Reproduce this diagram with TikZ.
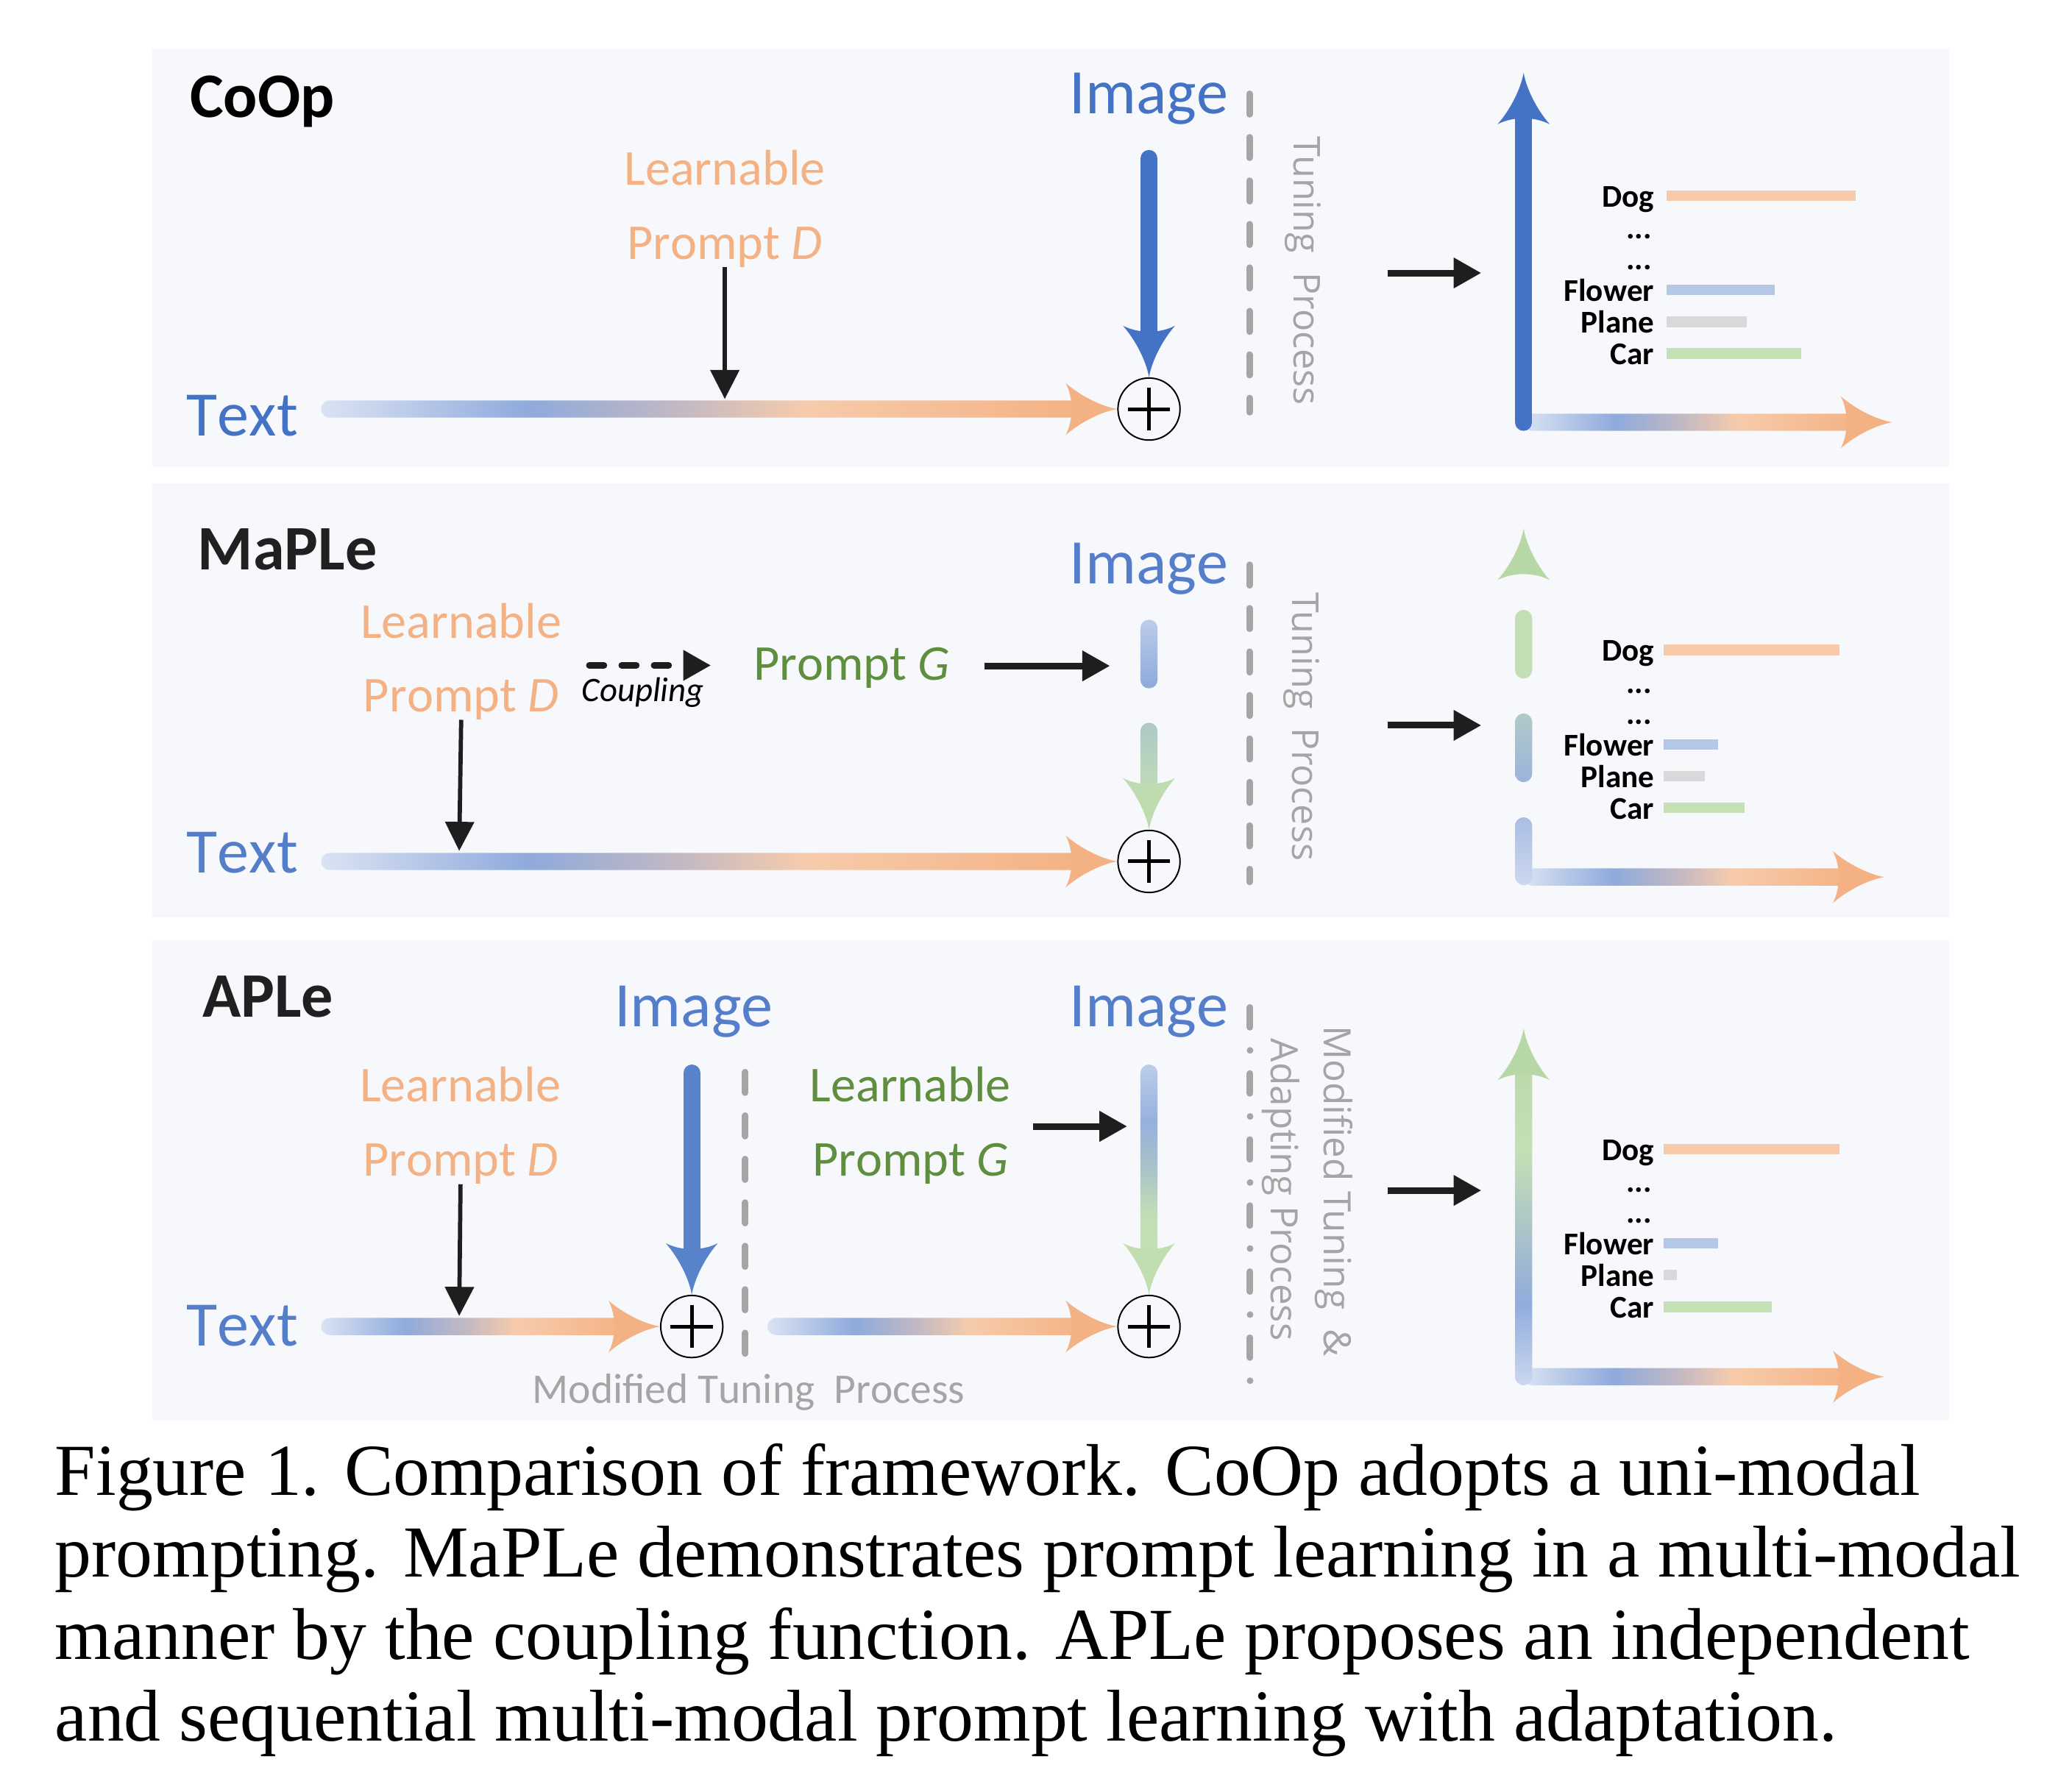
\documentclass[tikz,border=0pt]{standalone}
\usepackage{fontspec}
\setmainfont{Liberation Serif}
\newfontfamily\calfont[Kerning=Off]{Carlito}
\newfontfamily\opfont{Open Sans}
\usetikzlibrary{arrows.meta, calc}

\definecolor{panelbg}{RGB}{247,248,252}
\definecolor{imgblue}{RGB}{68,114,196}
\definecolor{imgblueb}{RGB}{88,131,203}
\definecolor{labblue}{RGB}{84,125,202}
\definecolor{lrnorange}{RGB}{244,177,131}
\definecolor{lrngreen}{RGB}{94,142,62}
\definecolor{procgray}{RGB}{165,165,165}
\definecolor{titlegray}{RGB}{32,32,32}
\definecolor{feedblack}{RGB}{30,30,30}
\definecolor{dogc}{RGB}{246,202,171}
\definecolor{flowc}{RGB}{180,199,231}
\definecolor{planec}{RGB}{217,217,217}
\definecolor{carc}{RGB}{197,224,180}
\definecolor{flowA}{RGB}{218,227,243}
\definecolor{flowB}{RGB}{143,170,220}
\definecolor{flowC}{RGB}{192,184,196}
\definecolor{flowD}{RGB}{246,203,171}
\definecolor{flowE}{RGB}{244,177,131}
\definecolor{headgreen}{RGB}{183,215,166}
\definecolor{headgreenb}{RGB}{190,220,175}
\definecolor{headgreenc}{RGB}{192,222,176}
\definecolor{seggreen}{RGB}{196,223,181}

% shadings: the path box maps to 25bp..75bp
\pgfdeclarehorizontalshading{flowH}{100bp}{color(0bp)=(flowA); color(25bp)=(flowA); color(38.5bp)=(flowB); color(48bp)=(flowC); color(56.5bp)=(flowD); color(75bp)=(flowE); color(100bp)=(flowE)}
\pgfdeclareverticalshading{segB}{100bp}{color(0bp)=(rgb,255:red,142;green,169;blue,219); color(25bp)=(rgb,255:red,142;green,169;blue,219); color(75bp)=(rgb,255:red,188;green,204;blue,235); color(100bp)=(rgb,255:red,188;green,204;blue,235)}
\pgfdeclareverticalshading{segGr}{100bp}{color(0bp)=(rgb,255:red,195;green,223;blue,179); color(25bp)=(rgb,255:red,195;green,223;blue,179); color(75bp)=(rgb,255:red,174;green,200;blue,198); color(100bp)=(rgb,255:red,174;green,200;blue,198)}
\pgfdeclareverticalshading{segT}{100bp}{color(0bp)=(rgb,255:red,156;green,180;blue,220); color(25bp)=(rgb,255:red,156;green,180;blue,220); color(75bp)=(rgb,255:red,176;green,202;blue,201); color(100bp)=(rgb,255:red,176;green,202;blue,201)}
\pgfdeclareverticalshading{segL}{100bp}{color(0bp)=(rgb,255:red,204;green,216;blue,239); color(25bp)=(rgb,255:red,204;green,216;blue,239); color(75bp)=(rgb,255:red,169;green,189;blue,228); color(100bp)=(rgb,255:red,169;green,189;blue,228)}
\pgfdeclareverticalshading{imgV}{100bp}{color(0bp)=(rgb,255:red,195;green,223;blue,179); color(25bp)=(rgb,255:red,195;green,223;blue,179); color(37.5bp)=(rgb,255:red,195;green,222;blue,181); color(49bp)=(rgb,255:red,170;green,195;blue,200); color(61bp)=(rgb,255:red,151;green,176;blue,221); color(75bp)=(rgb,255:red,188;green,205;blue,236); color(100bp)=(rgb,255:red,188;green,205;blue,236)}
\pgfdeclareverticalshading{axisV}{100bp}{color(0bp)=(rgb,255:red,203;green,215;blue,239); color(25bp)=(rgb,255:red,203;green,215;blue,239); color(37.5bp)=(rgb,255:red,145;green,172;blue,220); color(50bp)=(rgb,255:red,174;green,199;blue,199); color(61bp)=(rgb,255:red,197;green,224;blue,180); color(75bp)=(rgb,255:red,185;green,216;blue,168); color(100bp)=(rgb,255:red,185;green,216;blue,168)}

% curved arrow head: tip at #1, turned by #2, colour #3
\newcommand{\curvyhead}[3]{%
  \fill[#3, shift={#1}, rotate=#2] (0,0) .. controls (-12,2) and (-28,10) .. (-39,19.7)
    .. controls (-33,8) and (-33,-8) .. (-39,-19.7)
    .. controls (-28,-10) and (-12,-2) .. (0,0) -- cycle;}
% shaded shaft to the right, with head
\newcommand{\hflow}[2]{%
  \shade[shading=flowH, rounded corners=6.5pt] ($(#1)+(0,-6.5)$) rectangle ($(#2)+(-22,6.5)$);
  \curvyhead{(#2)}{0}{flowE}}
% shaded shaft going down, with head
\newcommand{\vflow}[4]{%
  \shade[shading=#1, rounded corners=6.5pt] ($(#2)+(-6.5,0)$) rectangle ($(#3)+(6.5,-22)$);
  \curvyhead{(#3)}{-90}{#4}}

\tikzset{
  title/.style={font=\calfont\bfseries\fontsize{48}{50}\selectfont, anchor=base west, inner sep=0pt},
  imglab/.style={font=\calfont\fontsize{48}{50}\selectfont, anchor=base, inner sep=0pt},
  lrn/.style={font=\calfont\fontsize{38}{40}\selectfont, anchor=base, inner sep=0pt},
  proc/.style={font=\opfont\fontsize{28}{30}\selectfont, text=procgray, anchor=base, rotate=-90, inner sep=0pt},
  cls/.style={font=\calfont\bfseries\fontsize{24}{26}\selectfont, anchor=base east, inner sep=0pt},
  oplus/.style={circle, draw=black, line width=1.1pt, minimum size=47pt, inner sep=0pt,
    path picture={\draw[line width=2.8pt] ($(path picture bounding box.center)+(-16,0)$) -- ++(32,0)
      ($(path picture bounding box.center)+(0,-16)$) -- ++(0,32);}},
  feed/.style={-{Triangle[length=21pt,width=22pt]}, line width=5pt, feedblack},
  thinfeed/.style={-{Triangle[length=22pt,width=21.5pt]}, line width=3.2pt, feedblack},
  procdash/.style={procgray, line width=5pt, line cap=round, dash pattern=on 15.5pt off 17.4pt},
  caption/.style={font=\fontsize{55.5}{62}\selectfont, align=left, inner sep=0pt}
}

\begin{document}
\begin{tikzpicture}[x=1pt, y=-1pt]
\useasboundingbox (0,0) rectangle (1568,1350);
\fill[white] (0,0) rectangle (1568,1350);

% --- CoOp ---
\fill[panelbg] (115,36.5) rectangle (1475,353.6);
\node[title] (coop) at (143.5,89) {CoOp};
\node[imglab, text=imgblue] (img1) at (869.5,86) {Image};
\node[lrn, text=lrnorange] (lp1) at (548.5,140) {Learnable};
\node[lrn, text=lrnorange] (pd1) at (548.5,196) {Prompt \textit{D}};
\node[imglab, text=imgblue] (txt1) at (183.5,330) {Text};
\node[oplus] (plus1) at (869.5,309.6) {};
\coordinate (ts1) at (243,309.6);
\coordinate (is1) at (869.5,120);
\hflow{ts1}{plus1.west}
\draw[imgblue, line width=13pt, line cap=round] (is1) -- ($(plus1.north)+(0,-22)$);
\curvyhead{(plus1.north)}{-90}{imgblue}
\draw[thinfeed] (pd1.south) -- (548.5,302);
\draw[procdash] (945.5,71) -- (945.5,312);
\node[proc] (tun1) at (979,205) {Tuning\ \ Process};
\draw[feed] (1050,206.6) -- (1121,206.6);
% output axes
\coordinate (ax1) at (1153,319.6);
\coordinate (up1) at (1153,55);
\coordinate (rt1) at (1432,319.6);
\hflow{ax1}{rt1}
\draw[imgblue, line width=13pt, line cap=round] (ax1) -- ($(up1)+(0,22)$);
\curvyhead{(up1)}{90}{imgblue}

% --- MaPLe ---
\fill[panelbg] (115,365.7) rectangle (1475,694.3);
\node[title, text=titlegray] (maple) at (149.5,431) {MaPLe};
\node[imglab, text=labblue] (img2) at (869.5,442) {Image};
\node[lrn, text=lrnorange] (lp2) at (349,483) {Learnable};
\node[lrn, text=lrnorange] (pd2) at (349,538.5) {Prompt \textit{D}};
\node[lrn, text=lrngreen] (pg2) at (644.5,515) {Prompt \textit{G}};
\node[font=\calfont\itshape\fontsize{26}{28}\selectfont, anchor=base, inner sep=0pt] (cpl) at (486.5,531) {Coupling};
\draw[feed, dash pattern=on 11pt off 13.5pt, line cap=round] (446,503.6) -- (538,503.6);
\draw[feed] (745,504) -- (840,504);
\node[imglab, text=labblue] (txt2) at (183.5,660.6) {Text};
\node[oplus] (plus2) at (869.5,652) {};
\coordinate (ts2) at (243,652);
\hflow{ts2}{plus2.west}
\shade[shading=segB, rounded corners=6.5pt] (863,469) rectangle (876,521);
\coordinate (gs2) at (869.5,547);
\vflow{segGr}{gs2}{plus2.north}{headgreenb}
\draw[thinfeed] (pd2.south) -- (347.5,644);
\draw[procdash] (945.5,427.5) -- (945.5,667.5);
\node[proc] (tun2) at (978,550) {Tuning\ \ Process};
\draw[feed] (1050,549) -- (1121,549);
% output axes
\coordinate (ax2) at (1153,663.8);
\coordinate (rt2) at (1426,663.8);
\hflow{ax2}{rt2}
\curvyhead{(1153,400)}{90}{headgreen}
\fill[seggreen, rounded corners=6.5pt] (1146.5,461.6) rectangle (1159.5,513.6);
\shade[shading=segT, rounded corners=6.5pt] (1146.5,540) rectangle (1159.5,592);
\shade[shading=segL, rounded corners=6.5pt] (1146.5,618.6) rectangle (1159.5,670);

% --- APLe ---
\fill[panelbg] (115,711.6) rectangle (1475,1075);
\node[title, text=titlegray] (aple) at (153,770) {APLe};
\node[imglab, text=labblue] (img3a) at (525,777) {Image};
\node[imglab, text=labblue] (img3b) at (869.5,777) {Image};
\node[lrn, text=lrnorange] (lp3) at (348.5,834) {Learnable};
\node[lrn, text=lrnorange] (pd3) at (348.5,890) {Prompt \textit{D}};
\node[lrn, text=lrngreen] (lg3) at (689,834) {Learnable};
\node[lrn, text=lrngreen] (pg3) at (689,890) {Prompt \textit{G}};
\node[imglab, text=labblue] (txt3) at (183.5,1018.8) {Text};
\node[oplus] (plus3a) at (523.5,1004) {};
\node[oplus] (plus3b) at (869.5,1004) {};
\coordinate (ts3a) at (243,1004);
\coordinate (ts3b) at (580.7,1004);
\hflow{ts3a}{plus3a.west}
\hflow{ts3b}{plus3b.west}
\coordinate (is3) at (523.5,812.2);
\draw[imgblueb, line width=13pt, line cap=round] (is3) -- ($(plus3a.north)+(0,-22)$);
\curvyhead{(plus3a.north)}{-90}{imgblueb}
\coordinate (gs3) at (869.5,805.7);
\vflow{imgV}{gs3}{plus3b.north}{headgreenc}
\draw[thinfeed] (pd3.south) -- (347.5,996);
\draw[feed] (782,852.5) -- (853,852.5);
\draw[procdash] (564,811.5) -- (564,1025);
\node[font=\calfont\fontsize{32}{34}\selectfont, text=procgray, anchor=base, inner sep=0pt] (mtp) at (566.6,1062) {Modified Tuning\ \ Process};
\draw[procgray, line width=5pt, line cap=round, dash pattern=on 15pt off 17.5pt on 0pt off 17.5pt] (946,762.5) -- (946,1045);
\node[proc, font=\opfont\fontsize{28.5}{30}\selectfont] (mta) at (1002,901.5) {Modified Tuning\ \ \&};
\node[proc, font=\opfont\fontsize{28.5}{30}\selectfont] (mtb) at (962,900.5) {Adapting Process};
\draw[feed] (1050,901) -- (1121,901);
% output axes
\coordinate (ax3) at (1153,1042);
\coordinate (up3) at (1153,778.5);
\coordinate (rt3) at (1426,1042);
\hflow{ax3}{rt3}
\shade[shading=axisV, rounded corners=6.5pt] (1146.5,1048.5) rectangle ($(up3)+(6.5,22)$);
\curvyhead{(up3)}{90}{headgreen}

% class scores
\foreach \p/\yo/\xo/\ld/\lf/\lp/\lc in {1/148/1261/143/82/61/102, 2/492/1259/133/41/31/61, 3/869.6/1259/133/41/10/82} {
  \foreach \cl/\dy/\len/\col [count=\k] in {Dog/0/\ld/dogc, Flower/71.5/\lf/flowc, Plane/95.5/\lp/planec, Car/119.5/\lc/carc} {
    \fill[\col] (\xo,\yo+\dy-4) rectangle ++(\len,8);
    \node[cls] (c\p\k) at (1252,\yo+\dy+8.5) {\cl};
  }
  \node[cls] (d\p a) at (1250,\yo+32.7) {...};
  \node[cls] (d\p b) at (1250,\yo+56.3) {...};
}

% caption
\node[caption, anchor=north west] (cap) at (41.5,1092.5) {Figure 1. Comparison of framework. CoOp adopts a uni-modal\\
prompting. MaPLe demonstrates prompt learning in a multi-modal\\
manner by the coupling function. APLe proposes an independent\\
and sequential multi-modal prompt learning with adaptation.};
\end{tikzpicture}
\end{document}
